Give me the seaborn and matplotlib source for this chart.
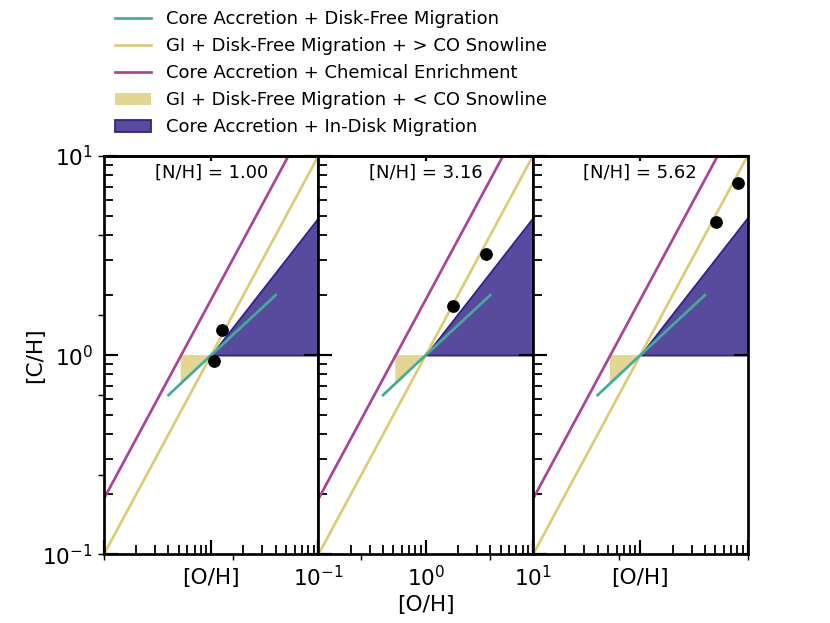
import numpy as np
import pandas as pd
import seaborn as sns
import matplotlib.pyplot as plt
from matplotlib.lines import Line2D
from matplotlib.patches import Patch
from matplotlib.ticker import NullLocator
from matplotlib.colors import to_rgba

# planets, one panel per [N/H]
nh_values = [1.00, 3.16, 5.62]
planet_oh = [[1.27, 1.06], [1.81, 3.65], [5.04, 8.13]]
planet_ch = [[1.33, 0.93], [1.76, 3.20], [4.64, 7.27]]

# model tracks (same in every panel)
disk_free_oh = [0.4, 1.0, 4.0]
disk_free_ch = [0.63, 1.0, 2.0]
gi_outer_oh = [0.1, 10.0]
gi_outer_ch = [0.1, 10.0]
enrich_oh = [0.1, 10.0]
enrich_ch = [0.19, 19.0]

# shaded regions
gi_inner_oh = [0.52, 1.0]
gi_inner_lo = [0.72, 1.0]
gi_inner_hi = [1.0, 1.0]
in_disk_oh = [1.0, 10.0]
in_disk_lo = [1.0, 1.0]
in_disk_hi = [1.0, 4.9]

teal = '#44AA99'
sand = '#DDCC77'
rose = '#AA4499'
indigo = '#332288'

labels = ['Core Accretion + Disk-Free Migration',
          'GI + Disk-Free Migration + > CO Snowline',
          'Core Accretion + Chemical Enrichment',
          'GI + Disk-Free Migration + < CO Snowline',
          'Core Accretion + In-Disk Migration']

fig, axes = plt.subplots(1, 3, sharey=True, figsize=(6.4, 4.8), dpi=129.8)
fig.subplots_adjust(top=0.75, wspace=0)

for i, ax in enumerate(axes):
    ax.set_xscale('log')
    ax.set_yscale('log')

    ax.fill_between(gi_inner_oh, gi_inner_lo, gi_inner_hi,
                    facecolor=to_rgba(sand, 0.8), edgecolor='none')
    ax.fill_between(in_disk_oh, in_disk_lo, in_disk_hi,
                    facecolor=to_rgba(indigo, 0.82), edgecolor=indigo, linewidth=1)

    sns.lineplot(x=enrich_oh, y=enrich_ch, ax=ax, color=rose, lw=1.5,
                 estimator=None, sort=False, legend=False)
    sns.lineplot(x=gi_outer_oh, y=gi_outer_ch, ax=ax, color=sand, lw=1.5,
                 estimator=None, sort=False, legend=False)
    sns.lineplot(x=disk_free_oh, y=disk_free_ch, ax=ax, color=teal, lw=1.5,
                 estimator=None, sort=False, legend=False)

    dots = pd.DataFrame({'oh': planet_oh[i], 'ch': planet_ch[i]})
    sns.scatterplot(data=dots, x='oh', y='ch', ax=ax, color='black', s=50,
                    linewidth=0, zorder=5, legend=False)

    ax.set_xlim(0.1, 10)
    ax.set_ylim(0.1, 10)
    ax.set_xlabel('')
    ax.set_ylabel('')

    ax.tick_params(which='major', direction='in', length=8, width=1.2,
                   right=True, labelsize=12, pad=6)
    ax.tick_params(which='minor', direction='in', length=5, width=1.0)
    for sp in ax.spines.values():
        sp.set_linewidth(1.5)

    # short tick on top edge
    sec = ax.secondary_xaxis('top')
    sec.set_xticks([1.0])
    sec.xaxis.set_minor_locator(NullLocator())
    sec.tick_params(direction='in', length=3, width=1.2, labeltop=False)
    sec.spines['top'].set_linewidth(1.5)

    ax.text(0.5, 0.98, f'[N/H] = {nh_values[i]:.2f}', transform=ax.transAxes,
            ha='center', va='top', fontsize=10)

    if i != 1:
        ax.tick_params(labelbottom=False)
        ax.set_xlabel('[O/H]', fontsize=12)

# common labels on a frameless overlay
big = fig.add_subplot(111, frameon=False)
big.tick_params(labelbottom=False, labelleft=False)
big.set_xlabel('[O/H]', fontsize=12, labelpad=19)
big.set_ylabel('[C/H]', fontsize=12, labelpad=29)

handles = [Line2D([], [], color=teal, lw=1.5),
           Line2D([], [], color=sand, lw=1.5),
           Line2D([], [], color=rose, lw=1.5),
           Patch(facecolor=to_rgba(sand, 0.8), edgecolor='none'),
           Patch(facecolor=to_rgba(indigo, 0.82), edgecolor=indigo)]
fig.legend(handles, labels, loc='upper left', bbox_to_anchor=(0.13, 0.995),
           frameon=False, borderaxespad=0, fontsize=10)

plt.savefig('out.png', dpi=129.8)
